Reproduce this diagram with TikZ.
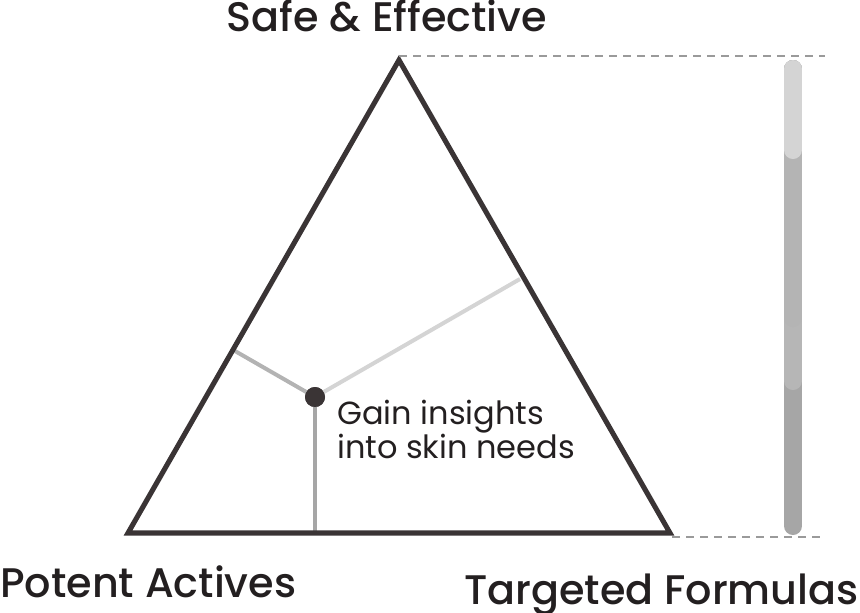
\documentclass[tikz,border=0pt]{standalone}
\usepackage{fontspec}
\setmainfont{Poppins}
\newfontfamily\titlefont{Poppins}[UprightFont=* Medium]
\usetikzlibrary{positioning,calc}
\definecolor{edge}{HTML}{3A3435}
\definecolor{ink}{HTML}{231F20}
\definecolor{armA}{HTML}{B3B3B3}
\definecolor{armB}{HTML}{D4D4D4}
\definecolor{armC}{HTML}{A6A6A6}
\definecolor{guide}{HTML}{9A9A9A}

\begin{document}
\begin{tikzpicture}[x=0.75pt,y=-0.75pt]
    \tikzstyle{title}=[font=\titlefont\fontsize{31}{34}\selectfont,
                       text=ink, inner sep=0pt]
    \tikzset{arm/.style={line width=3pt}};
    \tikzset{bar/.style={line width=13.5pt, line cap=round}};
    \useasboundingbox (0,0) rectangle (860,612);

    % corners of the triangle
    \coordinate (a) at (399,60);
    \coordinate (b) at (128,533);
    \coordinate (c) at (670,533);
    \coordinate (l) at (235,351);
    \coordinate (r) at (520,279);
    \coordinate (m) at (315,533);

    \node[circle, fill=edge, minimum size=15pt, inner sep=0pt] (p) at (315,397) {};

    \draw[arm, armA] (p.center) -- (l);
    \draw[arm, armB] (p.center) -- (r);
    \draw[arm, armC] (p.center) -- (m);
    \node[circle, fill=edge, minimum size=15pt, inner sep=0pt] at (p) {};

    \draw[edge, line width=3.8pt, line join=miter] (a) -- (b) -- (c) -- cycle;

    % guide lines and scale bar
    \coordinate (t1) at (825,56);
    \coordinate (t2) at (825,537);
    \draw[guide, line width=1.2pt, dash pattern=on 6pt off 4.5pt] (a |- t1) -- (t1);
    \draw[guide, line width=1.2pt, dash pattern=on 6pt off 4.5pt] (672,537) -- (t2);
    \coordinate (s1) at (793,69);
    \coordinate (s2) at (793,526);
    \draw[bar, draw=armC] (s1) -- (s2);
    \draw[bar, draw={rgb,255:red,182;green,182;blue,182}] (s1) -- (793,381);
    \draw[bar, draw={rgb,255:red,180;green,180;blue,180}] (s1) -- (793,318);
    \draw[bar, draw=armB] (s1) -- (793,150);

    \node[title, anchor=base] (t) at (387,31) {Safe \& Effective};
    \node[title, anchor=base west] (u) at (0,597) {Potent Actives};
    \node[title, anchor=base east] (v) at (859,604) {Targeted Formulas};
    \node[anchor=base west, inner sep=0pt, text=ink, align=left,
          font=\fontsize{24}{25.5}\selectfont] (g) at (337,458)
          {Gain insights\\into skin needs};
\end{tikzpicture}
\end{document}
